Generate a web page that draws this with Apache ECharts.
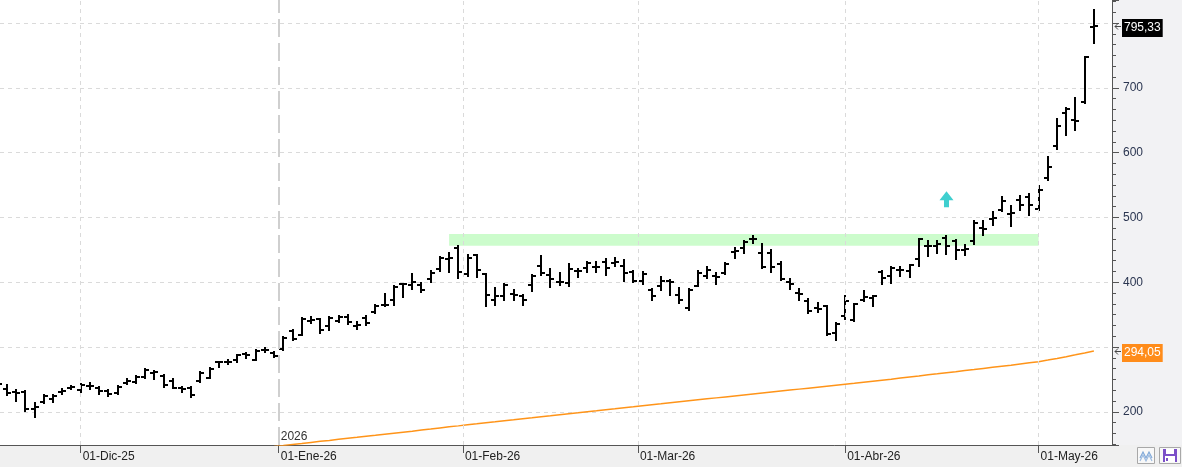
<!DOCTYPE html>
<html><head><meta charset="utf-8">
<script src="https://cdn.jsdelivr.net/npm/echarts@6/dist/echarts.min.js"></script>
<style>html,body{margin:0;padding:0;background:#fff}#c{width:1182px;height:467px}</style>
</head><body><div id="c"></div>
<script>
// ---------- DATA ----------
const dates = [
'2025-11-17','2025-11-18','2025-11-19','2025-11-20','2025-11-21','2025-11-24','2025-11-25','2025-11-26','2025-11-28',
'2025-12-01','2025-12-02','2025-12-03','2025-12-04','2025-12-05','2025-12-08','2025-12-09','2025-12-10','2025-12-11','2025-12-12',
'2025-12-15','2025-12-16','2025-12-17','2025-12-18','2025-12-19','2025-12-22','2025-12-23','2025-12-24','2025-12-26','2025-12-29','2025-12-30','2025-12-31',
'2026-01-02','2026-01-05','2026-01-06','2026-01-07','2026-01-08','2026-01-09','2026-01-12','2026-01-13','2026-01-14','2026-01-15','2026-01-16',
'2026-01-20','2026-01-21','2026-01-22','2026-01-23','2026-01-26','2026-01-27','2026-01-28','2026-01-29','2026-01-30',
'2026-02-02','2026-02-03','2026-02-04','2026-02-05','2026-02-06','2026-02-09','2026-02-10','2026-02-11','2026-02-12','2026-02-13',
'2026-02-17','2026-02-18','2026-02-19','2026-02-20','2026-02-23','2026-02-24','2026-02-25','2026-02-26','2026-02-27',
'2026-03-02','2026-03-03','2026-03-04','2026-03-05','2026-03-06','2026-03-09','2026-03-10','2026-03-11','2026-03-12','2026-03-13',
'2026-03-16','2026-03-17','2026-03-18','2026-03-19','2026-03-20','2026-03-23','2026-03-24','2026-03-25','2026-03-26','2026-03-27','2026-03-30','2026-03-31',
'2026-04-01','2026-04-02','2026-04-06','2026-04-07','2026-04-08','2026-04-09','2026-04-10','2026-04-13','2026-04-14','2026-04-15','2026-04-16','2026-04-17',
'2026-04-20','2026-04-21','2026-04-22','2026-04-23','2026-04-24','2026-04-27','2026-04-28','2026-04-29','2026-04-30',
'2026-05-01','2026-05-04','2026-05-05','2026-05-06','2026-05-07','2026-05-08','2026-05-11'
];
const open = [246,235.8,230.5,230.5,203.9,215.1,219.3,230.1,236.2,
233.2,240.4,237.3,232.1,229.6,245,246,253.6,260.4,255.2,247.5,237.3,237.3,247.5,252.7,277.4,276.8,279.8,289.1,280.9,294.8,291.2,
297.4,325.6,319.4,341,343.6,333.3,341,346.7,333.3,345.2,353.8,364.6,372.3,398,396.5,396.5,405.3,420.7,436.5,453.5,
413.4,442.7,413.4,373.4,378.4,382.6,379.5,396.5,424.7,411.9,400.6,399.1,417,422.2,423.7,430.9,429.9,425.7,416.1,
401.6,388.8,393.9,401.6,381,360.6,394.9,410.3,409.3,414.5,446.2,453,466.9,445.3,445.3,428.4,400.1,383.7,370.7,360.6,363.1,322,
347.6,342.5,373.4,376,415.4,410.3,419.6,417,436.1,456.6,456.6,468.4,464.3,450.4,464.3,483.8,497.7,512,505.4,527.4,532,
513.1,560.9,609.6,661,650.7,678,793.5];
const high = [250,240.9,233.2,232.1,213.9,225.4,225.9,234.7,239.8,
242.4,245,238.2,233.2,239.8,250.1,255.2,265.5,262.9,256.3,250.1,238.8,238.2,261.3,268.1,277.4,279.8,288.6,291.2,294.8,297.9,292.7,
315.9,326.1,345.2,346.1,343.6,346.1,347.6,350.2,338.4,347.6,365.7,382.6,393.9,398,413.4,399.1,417,439.2,445.3,456.6,
442.7,442.7,413.4,391.4,398,388.8,381,411.9,440.1,420.7,414.5,428.8,420.7,430.9,430.9,436.1,437.6,435,417,
416.1,389.9,407.7,404.2,391.4,389.9,417,423.7,414.5,429.9,453,463.2,472,459.7,449.3,430.9,405.3,389.9,374.4,368.3,364.1,337.5,
378.4,367.2,386.2,379.5,417,423.1,423.1,427.3,467.3,464.3,463.2,472,465.8,458.1,494,494,507.9,531.6,518.2,533.6,536.7,
547.9,593.2,652.2,668.7,684.1,748.2,820.2];
const low = [238,225.4,216.7,201.2,192.3,214.2,215.1,227,234.7,
231.1,234.7,228,224.4,227,242.4,243.9,251.6,251.2,238.8,236.2,231.1,222.8,246.6,251.6,269.1,273.2,277.4,283.6,279.8,292.2,285.1,
296.3,310.7,319.4,337.5,322,326.1,339,336.4,328.2,334.8,352.8,363.1,365.7,377.5,390.3,384.6,400,417,416.1,406.8,
409.3,408.8,363.1,365.7,372.3,373.4,365.7,386.2,411.9,392.3,396.5,394.9,408.3,415.4,415.4,411.9,424.7,401.6,400.6,
398,373.4,387.7,380,368.3,358,393.9,406.8,398,413.4,437.6,445.3,460.7,422.2,415.4,403,389.9,372.3,352.8,353.8,319.4,310.7,
343.6,341,370.7,363.1,398,399.1,409.3,408.3,424.7,440.1,445.3,443,436.1,442.7,459.7,473.5,488.9,509.4,487.4,510.9,503.3,
510.9,557.2,605.6,627.6,635.3,676.4,769.8];
const close = [242.4,229.6,229.6,203.9,207,224.4,224.4,231.6,237.8,
240.9,239.8,232.1,227,238.8,247.5,253.6,264,261.3,240.9,237.3,234.7,225.4,260.4,266.6,277.4,277.4,287.1,287.1,293.7,296.3,286,
314.4,312.8,344.1,342.1,327.1,345.2,346.7,338.4,334.3,337.5,364.1,365.2,392.9,398,400,388.7,414.5,437.6,438.1,416.1,
437.6,419.6,380.6,379.5,395.4,381,372.3,409.3,414.5,405.3,400.6,420.7,418,429.9,423.7,422.2,430.9,414.5,402.6,
412.9,379.5,401.6,400.6,373.4,388.8,414.5,419.6,407.7,428.8,447.8,461.6,467.3,423.7,423.1,405.3,398,382.6,355.3,359,320.5,336.4,
370.7,366.7,377.5,378.4,406.8,422.2,419.6,426.2,466.9,456.6,459.7,456.6,449.3,451.5,491.5,482.3,499.2,524.8,506.9,519.7,518.7,
542.8,577.8,641.5,667.7,648.1,747.3,795.33];
// moving average (orange line); earlier values lie below the visible range
const ma = [null,null,null,null,null,null,null,null,null,null,null,null,null,null,null,
null,null,null,null,null,null,null,null,null,null,null,null,null,null,null,
146.8,148.3,149.9,151.4,153.0,154.6,156.1,157.7,159.3,160.8,162.4,163.9,165.5,167.1,168.7,170.3,172.0,173.6,175.3,177.0,
178.5,180.1,181.6,183.2,184.7,186.3,187.8,189.4,190.9,192.5,194.0,195.6,197.2,198.7,200.3,201.8,203.4,204.9,206.5,208.0,
209.6,211.1,212.6,214.2,215.7,217.2,218.7,220.2,221.7,223.2,224.7,226.2,227.7,229.2,230.7,232.2,233.7,235.2,236.7,238.2,
239.7,241.2,242.7,244.2,245.8,247.4,249.0,250.6,252.3,253.9,255.5,257.2,258.8,260.5,262.1,263.8,265.4,267.1,268.8,270.5,
272.2,274.0,275.8,277.6,280.0,282.6,285.3,288.1,291.0,294.05];
// x-axis tick labels and the first day of each month they mark
const monthStarts = ['2025-12-01','2026-01-01','2026-02-01','2026-03-01','2026-04-01','2026-05-01'];
const monthLabels = ['01-Dic-25','01-Ene-26','01-Feb-26','01-Mar-26','01-Abr-26','01-May-26'];
const yearLabel = '2026';
// resistance band and signal arrow
const bandFrom = '2026-01-29', bandTo = '2026-05-01';
const bandLow = 456.5, bandHigh = 474.7;
const arrowDate = '2026-04-17', arrowValue = 528;

// ---------- CHART ----------
const FONT = '"Liberation Sans", Arial, sans-serif';
const X_MIN = 0.24, X_MAX = 120.97, Y_MIN = 149, Y_MAX = 835.5;
const monthPos = monthStarts.map(ms => {
  const k = dates.findIndex(d => d >= ms);
  return dates[k] === ms ? k : k - 0.5;
});
const yearPos = monthPos[monthStarts.findIndex(m => m.slice(5, 7) === '01')];
const fmt = v => v.toFixed(2).replace('.', ',');
const lastClose = close[close.length - 1];
const lastMa = ma[ma.length - 1];

function renderItem(params, api) {
  const i = api.value(0);
  const o = api.coord([i, api.value(1)]);
  const h = api.coord([i, api.value(2)]);
  const l = api.coord([i, api.value(3)]);
  const c = api.coord([i, api.value(4)]);
  const x = Math.round(o[0]);
  const st = {stroke: '#000', lineWidth: 2};
  return {type: 'group', children: [
    {type: 'line', shape: {x1: x, y1: Math.round(h[1]) - 1, x2: x, y2: Math.round(l[1]) + 1}, style: st},
    {type: 'line', shape: {x1: x - 4, y1: Math.round(o[1]), x2: x, y2: Math.round(o[1])}, style: st},
    {type: 'line', shape: {x1: x, y1: Math.round(c[1]), x2: x + 4, y2: Math.round(c[1])}, style: st}
  ]};
}

const gridLines = monthPos.map(p => {
  const isYear = p === yearPos;
  return {xAxis: p, lineStyle: isYear
    ? {color: '#cfcfcf', width: 2, type: [18, 6]}
    : {color: '#dadada', width: 1, type: [4, 4]}};
});

const baseGraphic = [
  {id: 'bgR', type: 'rect', z: -100, silent: true, shape: {x: 1112, y: 0, width: 70, height: 445}, style: {fill: '#f2f2f4'}},
  {id: 'bgB', type: 'rect', z: -100, silent: true, shape: {x: 0, y: 445, width: 1182, height: 22}, style: {fill: '#f0f0f0'}},
  {id: 'b1', type: 'rect', z: 10, shape: {x: 1137.5, y: 447.5, width: 17, height: 16}, style: {fill: '#f8f8f8', stroke: '#a8a8a8', lineWidth: 1}},
  {id: 'b1a', type: 'polyline', z: 11, shape: {points: [[1140, 458], [1143, 452], [1146, 458], [1149, 452], [1152, 458]]}, style: {stroke: '#7fa8d8', lineWidth: 1.2, fill: null}},
  {id: 'b1b', type: 'polyline', z: 11, shape: {points: [[1140, 461], [1143, 455], [1146, 461], [1149, 455], [1152, 461]]}, style: {stroke: '#9cbbe0', lineWidth: 1.2, fill: null}},
  {id: 'b2', type: 'rect', z: 10, shape: {x: 1159.5, y: 447.5, width: 21, height: 16}, style: {fill: '#f8f8f8', stroke: '#a8a8a8', lineWidth: 1}},
  {id: 'b2a', type: 'rect', z: 11, shape: {x: 1163, y: 449, width: 14, height: 13}, style: {fill: '#7b4fc8'}},
  {id: 'b2b', type: 'rect', z: 12, shape: {x: 1166, y: 449, width: 8, height: 5}, style: {fill: '#ffffff'}},
  {id: 'b2c', type: 'rect', z: 12, shape: {x: 1165, y: 456, width: 10, height: 6}, style: {fill: '#ffffff'}},
  {id: 'b2d', type: 'rect', z: 13, shape: {x: 1166, y: 458, width: 2, height: 3}, style: {fill: '#7b4fc8'}}
];

const option = {
  animation: false,
  backgroundColor: '#fff',
  textStyle: {fontFamily: FONT},
  grid: {left: 0, right: 70, top: 0, bottom: 22, containLabel: false},
  graphic: baseGraphic,
  xAxis: {
    type: 'value', min: X_MIN, max: X_MAX,
    splitLine: {show: false},
    axisLine: {show: true, lineStyle: {color: '#555', width: 1}},
    axisTick: {show: true, customValues: monthPos, length: 8, lineStyle: {color: '#555'}},
    axisLabel: {
      show: true, customValues: monthPos, align: 'left', margin: 6, padding: [0, 0, 0, 2],
      color: '#222', fontSize: 12, fontFamily: FONT,
      formatter: v => { const k = monthPos.findIndex(p => Math.abs(p - v) < 1e-6); return k >= 0 ? monthLabels[k] : ''; }
    }
  },
  yAxis: {
    type: 'value', position: 'right', min: Y_MIN, max: Y_MAX, splitNumber: 7,
    axisLine: {show: true, lineStyle: {color: '#555', width: 1}},
    axisTick: {show: true, length: 7, lineStyle: {color: '#555'}},
    minorTick: {show: true, splitNumber: 6, length: 4, lineStyle: {color: '#555'}},
    splitLine: {show: true, showMinLine: false, showMaxLine: false, lineStyle: {color: '#dadada', type: [4, 4], width: 1}},
    axisLabel: {
      margin: 11, color: '#2a3550', fontSize: 12, fontFamily: FONT, showMinLabel: false, showMaxLabel: false,
      // labels hidden underneath the last-value tags
      formatter: v => (Math.abs(v - lastClose) < 15 || Math.abs(v - lastMa) < 15) ? '' : String(v)
    }
  },
  series: [
    {
      name: 'OHLC', type: 'custom', renderItem, clip: true, z: 3,
      encode: {x: 0, y: [1, 2, 3, 4]},
      data: dates.map((d, i) => [i, open[i], high[i], low[i], close[i]]),
      markArea: {
        silent: true,
        itemStyle: {color: '#ccfccc', opacity: 1},
        data: [[{xAxis: dates.indexOf(bandFrom), yAxis: bandHigh}, {xAxis: dates.indexOf(bandTo), yAxis: bandLow}]]
      }
    },
    {
      name: 'MA', type: 'line', clip: true, z: 2, showSymbol: false, symbol: 'none',
      lineStyle: {color: '#ff9419', width: 1.5},
      data: ma.map((v, i) => v == null ? null : [i, v]).filter(Boolean),
      markLine: {silent: true, symbol: ['none', 'none'], label: {show: false}, data: gridLines}
    },
    {
      name: 'marks', type: 'scatter', clip: false, z: 5, data: [],
      markPoint: {
        silent: true,
        data: [
          {coord: [dates.indexOf(arrowDate), arrowValue], symbol: 'path://M7,0 L14,9 L9.5,9 L9.5,16 L4.5,16 L4.5,9 L0,9 Z',
           symbolSize: [14, 16], itemStyle: {color: '#3fcfcf'}, label: {show: false}},
          {coord: [yearPos, Y_MIN], symbol: 'circle', symbolSize: 0, itemStyle: {color: 'transparent'},
           label: {show: true, formatter: yearLabel, position: 'right', distance: 2, offset: [0, -8], color: '#333', fontSize: 12, fontFamily: FONT}}
        ]
      }
    }
  ]
};
const chart = echarts.init(document.getElementById('c'));
chart.setOption(option);

// last-value tags on the price axis, placed through the y scale
function valueTag(id, value, bg) {
  const y = Math.round(chart.convertToPixel({yAxisIndex: 0}, value)) + 0.5;
  return [
    {id: id + 'a', type: 'polyline', z: 100, shape: {points: [[1118, y - 3], [1115, y], [1118, y + 3]]}, style: {stroke: '#444', lineWidth: 1, fill: null}},
    {id: id + 'b', type: 'line', z: 100, shape: {x1: 1115, y1: y, x2: 1121, y2: y}, style: {stroke: '#444', lineWidth: 1}},
    {id: id + 'c', type: 'text', z: 101, x: 1122, y: y + 1.5,
     style: {text: fmt(value), fill: '#fff', backgroundColor: bg, padding: [2, 2, 2, 2],
             fontSize: 12, fontFamily: '"Liberation Sans", Arial, sans-serif', lineHeight: 14,
             verticalAlign: 'middle', align: 'left'}}
  ];
}
chart.setOption({graphic: baseGraphic.concat(valueTag('tc', lastClose, '#000'), valueTag('tm', lastMa, '#ff8c1a'))});
</script>
</body></html>
